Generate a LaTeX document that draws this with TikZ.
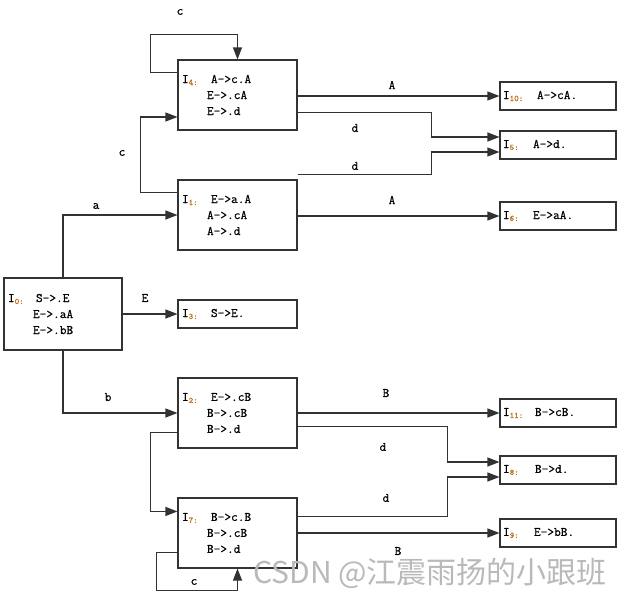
\documentclass[tikz,border=0pt]{standalone}
\usepackage{fontspec}
\setmonofont{Latin Modern Mono}[UprightFeatures={FakeBold=0.7}]
\newfontfamily\cjk{Noto Sans CJK SC}
\usetikzlibrary{arrows.meta,calc}
\definecolor{subc}{RGB}{190,110,20}
\definecolor{linec}{RGB}{50,50,50}
\newcommand{\stI}[1]{I\raisebox{-2pt}{\fontsize{8.5}{8.5}\selectfont\color{subc}#1}}
\newcommand{\lcol}[1]{\makebox[25pt][l]{#1}}
\newcommand{\rcol}[1]{\makebox[30pt][l]{#1}}
\begin{document}
\begin{tikzpicture}[x=1pt,y=-1pt,
  state/.style={draw=black!80, line width=1.1pt, minimum width=119, minimum height=70,
    inner sep=4, text width=111, align=left, font=\ttfamily\fontsize{13}{16}\selectfont},
  final/.style={draw=black!80, line width=1.1pt, minimum width=116, minimum height=28,
    inner sep=3, text width=110, align=left, font=\ttfamily\fontsize{13}{16}\selectfont},
  conn/.style={draw=linec, line width=1.1pt, -{Triangle[length=12pt,width=9pt]}},
  lab/.style={font=\ttfamily\fontsize{13}{14}\selectfont, inner sep=0}]
\useasboundingbox (0,0) rectangle (620,597);
% states
\node[state] (I4) at (237.5,95) {\lcol{\stI{4:}}\hspace{4pt}A->c.A\\\lcol{}E->.cA\\\lcol{}E->.d};
\node[state] (I1) at (237.5,215) {\lcol{\stI{1:}}\hspace{4pt}E->a.A\\\lcol{}A->.cA\\\lcol{}A->.d};
\node[state, minimum width=118, minimum height=72, text width=110] (I0) at (63,314) {\lcol{\stI{0:}}\hspace{3pt}S->.E\\\lcol{}E->.aA\\\lcol{}E->.bB};
\node[state, minimum height=28] (I3) at (237.5,314) {\lcol{\stI{3:}}\hspace{4pt}S->E.};
\node[state] (I2) at (237.5,413) {\lcol{\stI{2:}}\hspace{4pt}E->.cB\\\lcol{}B->.cB\\\lcol{}B->.d};
\node[state] (I7) at (237.5,533) {\lcol{\stI{7:}}\hspace{4pt}B->c.B\\\lcol{}B->.cB\\\lcol{}B->.d};
\node[final] (I10) at (558,96) {\rcol{\stI{10:}}\hspace{4pt}A->cA.};
\node[final] (I5) at (558,145) {\rcol{\stI{5:}}A->d.};
\node[final] (I6) at (558,216) {\rcol{\stI{6:}}E->aA.};
\node[final] (I11) at (558,413) {\rcol{\stI{11:}}\hspace{2pt}B->cB.};
\node[final] (I8) at (558,470) {\rcol{\stI{8:}}\hspace{2pt}B->d.};
\node[final] (I9) at (558,533) {\rcol{\stI{9:}}\hspace{1pt}E->bB.};
% connectors
\draw[conn] ($(I4.north west)+(0,13)$) -- ++(-27,0) |- ($(I4.north)+(0,-25)$) -- (I4.north);
\draw[conn] ($(I1.north west)+(0,13)$) -- ++(-37,0) |- ($(I4.west)+(0,22)$);
\draw[conn] (I0.north) |- (I1.west);
\draw[conn] (I0.east) -- (I3.west);
\draw[conn] (I0.south) |- (I2.west);
\draw[conn] ($(I2.south west)+(0,-16)$) -- ++(-27,0) |- ($(I7.north west)+(0,14)$);
\draw[conn] ($(I7.south west)+(0,-16)$) -- ++(-21,0) |- ($(I7.south)+(0,22)$) -- (I7.south);
\draw[conn] (I4.east |- I10.west) -- (I10.west);
\draw[conn] ($(I4.south east)+(0,-18)$) -- ++(134,0) |- ($(I5.west)+(0,-8)$);
\draw[conn] ($(I1.north east)+(0,-5)$) -- ++(134,0) |- ($(I5.west)+(0,7)$);
\draw[conn] (I1.east |- I6.west) -- (I6.west);
\draw[conn] (I2.east |- I11.west) -- (I11.west);
\draw[conn] ($(I2.south east)+(0,-22)$) -- ++(150,0) |- ($(I8.west)+(0,-8)$);
\draw[conn] ($(I7.north east)+(0,19)$) -- ++(150,0) |- ($(I8.west)+(0,7)$);
\draw[conn] (I7.east |- I9.west) -- (I9.west);
% labels
\node[lab] (l1) at (180,12) {c};
\node[lab] (l2) at (122,153) {c};
\node[lab] (l3) at (96,206) {a};
\node[lab] (l4) at (145,298) {E};
\node[lab] (l5) at (108,397) {b};
\node[lab] (l6) at (194,582) {c};
\node[lab] (l7) at (392,85) {A};
\node[lab] (l8) at (355,128) {d};
\node[lab] (l9) at (355,166) {d};
\node[lab] (l10) at (392,200) {A};
\node[lab] (l11) at (386,393) {B};
\node[lab] (l12) at (383,447) {d};
\node[lab] (l13) at (386,498) {d};
\node[lab] (l14) at (398,551) {B};
% watermark
\node[font=\cjk\fontsize{30}{32}\selectfont, text=gray!55, inner sep=0] (wm) at (430,573) {CSDN @江震雨扬的小跟班};
\end{tikzpicture}
\end{document}
